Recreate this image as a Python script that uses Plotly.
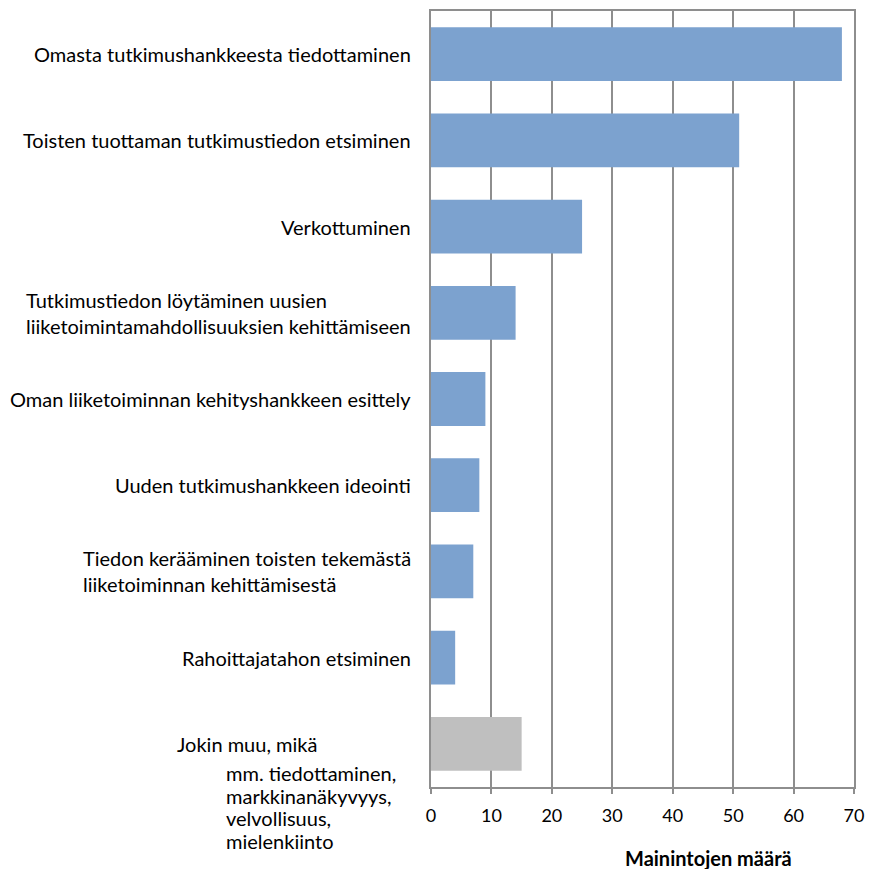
import plotly.graph_objects as go

# Data
CATEGORIES = [
    "Omasta tutkimushankkeesta tiedottaminen",
    "Toisten tuottaman tutkimustiedon etsiminen",
    "Verkottuminen",
    "Tutkimustiedon löytäminen uusien<br>liiketoimintamahdollisuuksien kehittämiseen",
    "Oman liiketoiminnan kehityshankkeen esittely",
    "Uuden tutkimushankkeen ideointi",
    "Tiedon kerääminen toisten tekemästä<br>liiketoiminnan kehittämisestä",
    "Rahoittajatahon etsiminen",
    "Jokin muu, mikä",
]
VALUES = [68, 51, 25, 14, 9, 8, 7, 4, 15]
OTHER_NOTE = ["mm. tiedottaminen,", "markkinanäkyvyys,", "velvollisuus,", "mielenkiinto"]
X_TICKS = [0, 10, 20, 30, 40, 50, 60, 70]
X_TITLE = "Mainintojen määrä"

COLORS = {
    "bar": "#7CA2CF",
    "other": "#BFBFBF",
    "grid": "#8E8E8E",
    "text": "#000000",
}
FONT = "Lato, 'Open Sans', sans-serif"

# page body has an 8px margin on every side; keep the figure inside the window
W, H = 857, 861
ML, MR, MT, MB = 423, 10, 1, 82
plot_w = W - ML - MR
plot_h = H - MT - MB

bar_colors = [COLORS["bar"]] * (len(VALUES) - 1) + [COLORS["other"]]

fig = go.Figure()
fig.add_bar(
    x=VALUES,
    y=CATEGORIES,
    orientation="h",
    marker=dict(color=bar_colors, line=dict(width=0)),
    hoverinfo="x+y",
)

# category labels: right-aligned blocks, lines left-aligned (like the Excel original)
for cat in CATEGORIES[:-1]:
    fig.add_annotation(
        x=-18 / plot_w, xref="paper", xanchor="right",
        y=cat, yref="y", yanchor="middle",
        text=cat, align="left", showarrow=False,
        font=dict(family=FONT, size=20, color=COLORS["text"]),
    )

# the "other" category with its note
fig.add_annotation(
    x=(166 - ML) / plot_w, xref="paper", xanchor="left",
    y=CATEGORIES[-1], yref="y", yanchor="middle",
    text=CATEGORIES[-1], align="left", showarrow=False,
    font=dict(family=FONT, size=20, color=COLORS["text"]),
)
for i, line in enumerate(OTHER_NOTE):
    fig.add_annotation(
        x=(216 - ML) / plot_w, xref="paper", xanchor="left",
        y=CATEGORIES[-1], yref="y", yanchor="middle", yshift=-(29 + 22.7 * i),
        text=line, align="left", showarrow=False,
        font=dict(family=FONT, size=20, color=COLORS["text"]),
    )

# axis title, off-centre as in the original
fig.add_annotation(
    x=(701 - ML) / plot_w, xref="paper", xanchor="center",
    y=-(850 - (MT + plot_h)) / plot_h, yref="paper", yanchor="middle",
    text="<b>" + X_TITLE + "</b>", showarrow=False,
    font=dict(family=FONT, size=20, color=COLORS["text"]),
)

fig.update_xaxes(
    range=[0, 70],
    tickvals=X_TICKS,
    showgrid=True, gridcolor=COLORS["grid"], gridwidth=2,
    showline=True, linecolor=COLORS["grid"], linewidth=2, mirror=True,
    ticks="outside", ticklen=5, tickcolor=COLORS["grid"], tickwidth=2,
    ticklabelstandoff=6, ticklabeloverflow="allow",
    tickfont=dict(family=FONT, size=18, color=COLORS["text"]),
    zeroline=False,
)
fig.update_yaxes(
    autorange="reversed",
    showticklabels=False,
    showline=True, linecolor=COLORS["grid"], linewidth=2, mirror=True,
    showgrid=False, zeroline=False, ticks="",
)
fig.update_layout(
    width=W, height=H,
    margin=dict(l=ML, r=MR, t=MT, b=MB),
    bargap=0.376,
    showlegend=False,
    paper_bgcolor="white",
    plot_bgcolor="white",
    font=dict(family=FONT, color=COLORS["text"]),
)

fig.write_html("out.html")
